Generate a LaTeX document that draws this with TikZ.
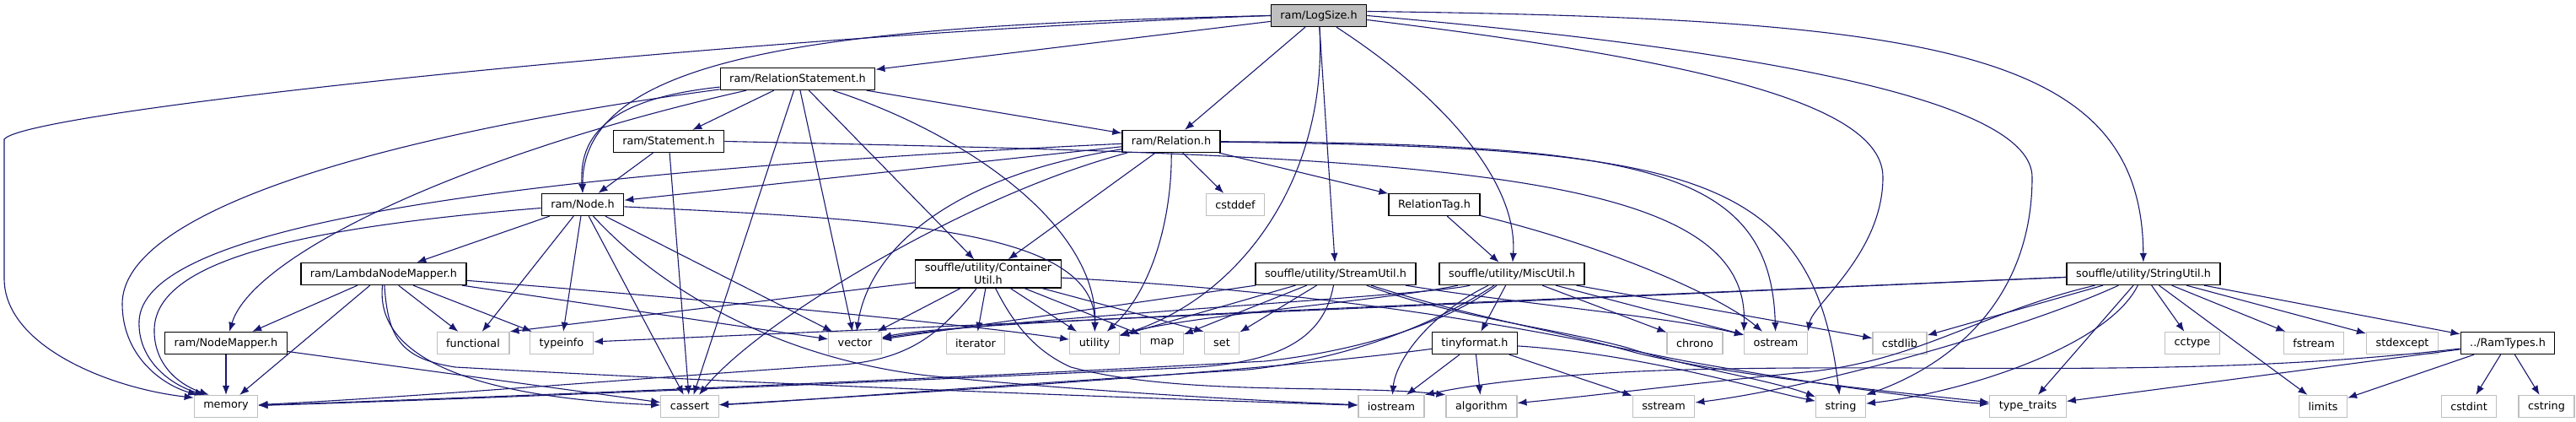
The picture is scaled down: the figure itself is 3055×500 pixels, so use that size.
\documentclass[tikz,border=0pt]{standalone}
\usepackage{fontspec}
\setmainfont{DejaVu Sans}
\usepackage{xcolor}
\usepackage{tikz}
\usetikzlibrary{positioning,arrows.meta}
\definecolor{edgeblue}{HTML}{191970}
\definecolor{sysgray}{HTML}{BFBFBF}

\begin{document}
\begin{tikzpicture}[
  x=1pt, y=1pt,
  font=\fontsize{12.8}{15}\selectfont,
  hdr/.style={draw, line width=1.3pt, fill=white, minimum height=26pt,
              inner xsep=11pt, inner ysep=4pt, align=center},
  sysh/.style={hdr, draw=sysgray},
  root/.style={hdr, fill=sysgray},
  inc/.style={draw=edgeblue, line width=1.1pt, -{Latex[length=11pt,width=8.5pt]}},
]
\useasboundingbox (0,0) rectangle (3055,500);

\node[root] (logsize) at (1564,481.5) {ram/LogSize.h};
\node[hdr] (relstmt) at (946,406.5) {ram/RelationStatement.h};
\node[hdr] (stmt) at (793,332.5) {ram/Statement.h};
\node[hdr] (relation) at (1389,332.5) {ram/Relation.h};
\node[hdr] (ramnode) at (691,257.5) {ram/Node.h};
\node[sysh] (cstddef) at (1465,257.5) {cstddef};
\node[hdr] (reltag) at (1701,257.5) {RelationTag.h};
\node[hdr] (lambda) at (455,175.5) {ram/LambdaNodeMapper.h};
\node[hdr] (contutil) at (1172,175.5) {souffle/utility/Container\\Util.h};
\node[hdr] (streamutil) at (1584,175.5) {souffle/utility/StreamUtil.h};
\node[hdr] (miscutil) at (1793,175.5) {souffle/utility/MiscUtil.h};
\node[hdr] (stringutil) at (2542,175.5) {souffle/utility/StringUtil.h};
\node[hdr] (nodemapper) at (268,93.5) {ram/NodeMapper.h};
\node[sysh] (functional) at (561,93.5) {functional};
\node[sysh] (typeinfo) at (666,93.5) {typeinfo};
\node[sysh] (vector) at (1014,93.5) {vector};
\node[sysh] (iterator) at (1157,93.5) {iterator};
\node[sysh] (utility) at (1298,93.5) {utility};
\node[sysh] (map) at (1378,93.5) {map};
\node[sysh] (set) at (1449,93.5) {set};
\node[hdr] (tinyformat) at (1749,93.5) {tinyformat.h};
\node[sysh] (chrono) at (2010,93.5) {chrono};
\node[sysh] (ostream) at (2106,93.5) {ostream};
\node[sysh] (cstdlib) at (2253,93.5) {cstdlib};
\node[sysh] (cctype) at (2600,93.5) {cctype};
\node[sysh] (fstream) at (2744,93.5) {fstream};
\node[sysh] (stdexcept) at (2849,93.5) {stdexcept};
\node[hdr] (ramtypes) at (2974,93.5) {../RamTypes.h};
\node[sysh] (memory) at (268,18.5) {memory};
\node[sysh] (cassert) at (818,18.5) {cassert};
\node[sysh] (iostream) at (1650,18.5) {iostream};
\node[sysh] (algorithm) at (1757,18.5) {algorithm};
\node[sysh] (sstream) at (1973,18.5) {sstream};
\node[sysh] (string) at (2183,18.5) {string};
\node[sysh] (typetraits) at (2405,18.5) {type\_traits};
\node[sysh] (limits) at (2755,18.5) {limits};
\node[sysh] (cstdint) at (2928,18.5) {cstdint};
\node[sysh] (cstring) at (3020,18.5) {cstring};

\draw[inc] (logsize) -- (relstmt);
\draw[inc] (logsize) -- (relation);
\draw[inc] (logsize.west) .. controls (1000,470) and (690,440) .. (ramnode.north);
\draw[inc] (logsize.west) .. controls (900,460) and (30,370) .. (5,335) -- (5,170) .. controls (5,90) and (130,40) .. (memory.165);
\draw[inc] (logsize) .. controls (1575,300) and (1480,150) .. (utility);
\draw[inc] (logsize) -- (streamutil);
\draw[inc] (logsize) .. controls (1720,380) and (1800,280) .. (miscutil);
\draw[inc] (logsize.-5) .. controls (2000,430) and (2233,380) .. (2233,290) .. controls (2233,200) and (2150,140) .. (ostream.north east);
\draw[inc] (logsize.east) .. controls (2100,440) and (2410,380) .. (2410,290) .. controls (2410,150) and (2320,70) .. (string.north east);
\draw[inc] (logsize.5) .. controls (2300,478) and (2540,440) .. (stringutil);

\draw[inc] (relstmt) -- (stmt);
\draw[inc] (relstmt) -- (relation);
\draw[inc] (relstmt) .. controls (740,385) and (685,350) .. (ramnode.north);
\draw[inc] (relstmt) .. controls (450,340) and (145,250) .. (145,140) .. controls (145,80) and (190,45) .. (memory.158);
\draw[inc] (relstmt) .. controls (560,320) and (300,200) .. (nodemapper);
\draw[inc] (relstmt) -- (cassert);
\draw[inc] (relstmt) -- (vector);
\draw[inc] (relstmt) -- (contutil);
\draw[inc] (relstmt) .. controls (1150,340) and (1302,230) .. (utility);

\draw[inc] (stmt) -- (ramnode);
\draw[inc] (stmt) -- (cassert);
\draw[inc] (stmt.east) .. controls (1700,315) and (2075,300) .. (ostream.north west);

\draw[inc] (relation) -- (ramnode);
\draw[inc] (relation) -- (cstddef);
\draw[inc] (relation) -- (reltag);
\draw[inc] (relation) -- (contutil);
\draw[inc] (relation) .. controls (500,290) and (170,220) .. (165,120) .. controls (163,75) and (200,45) .. (memory.152);
\draw[inc] (relation) .. controls (1120,290) and (1030,200) .. (vector);
\draw[inc] (relation) .. controls (1150,270) and (900,120) .. (cassert);
\draw[inc] (relation) .. controls (1390,250) and (1370,160) .. (utility);
\draw[inc] (relation) .. controls (1950,330) and (2100,300) .. (ostream);
\draw[inc] (relation) .. controls (2000,325) and (2150,300) .. (string);

\draw[inc] (reltag) -- (miscutil);
\draw[inc] (reltag) .. controls (1900,210) and (2040,150) .. (ostream);

\draw[inc] (ramnode) -- (lambda);
\draw[inc] (ramnode) .. controls (350,230) and (185,190) .. (183,110) .. controls (182,70) and (210,45) .. (memory.146);
\draw[inc] (ramnode) -- (functional);
\draw[inc] (ramnode) -- (typeinfo);
\draw[inc] (ramnode) -- (cassert);
\draw[inc] (ramnode) -- (vector);
\draw[inc] (ramnode) .. controls (790,150) and (930,75) .. (1100,55) .. controls (1300,35) and (1500,25) .. (iostream);
\draw[inc] (ramnode) .. controls (1050,240) and (1300,230) .. (utility);

\draw[inc] (lambda) -- (nodemapper);
\draw[inc] (lambda) -- (memory);
\draw[inc] (lambda) -- (functional);
\draw[inc] (lambda) -- (typeinfo);
\draw[inc] (lambda) -- (vector);
\draw[inc] (lambda) .. controls (900,140) and (1150,115) .. (utility);
\draw[inc] (lambda) .. controls (445,80) and (550,30) .. (cassert);
\draw[inc] (lambda) .. controls (460,100) and (475,75) .. (540,65) .. controls (900,45) and (1300,30) .. (iostream);

\draw[inc] (nodemapper) -- (memory);
\draw[inc] (nodemapper) -- (cassert);

\draw[inc] (contutil) -- (functional.north east);
\draw[inc] (contutil) -- (vector);
\draw[inc] (contutil) -- (iterator);
\draw[inc] (contutil) -- (utility);
\draw[inc] (contutil) -- (map);
\draw[inc] (contutil) -- (set.north west);
\draw[inc] (contutil) .. controls (1115,105) and (1080,75) .. (1000,68) .. controls (800,55) and (500,30) .. (memory);
\draw[inc] (contutil) .. controls (1200,120) and (1225,85) .. (1270,65) .. controls (1400,30) and (1600,45) .. (algorithm.north west);
\draw[inc] (contutil) .. controls (1650,150) and (1880,95) .. (2000,72) .. controls (2150,45) and (2300,25) .. (typetraits);

\draw[inc] (streamutil) -- (vector);
\draw[inc] (streamutil) -- (utility);
\draw[inc] (streamutil) -- (map);
\draw[inc] (streamutil) -- (set);
\draw[inc] (streamutil) .. controls (1570,100) and (1520,72) .. (1420,65) .. controls (1000,45) and (500,25) .. (memory);
\draw[inc] (streamutil) .. controls (1800,140) and (1980,125) .. (ostream);
\draw[inc] (streamutil) .. controls (1720,125) and (1850,110) .. (1930,88) .. controls (2000,65) and (2100,50) .. (string);
\draw[inc] (streamutil) .. controls (1740,125) and (1860,105) .. (1940,82) .. controls (2050,55) and (2250,35) .. (typetraits);

\draw[inc] (miscutil) -- (tinyformat);
\draw[inc] (miscutil) -- (chrono);
\draw[inc] (miscutil) -- (ostream);
\draw[inc] (miscutil) -- (cstdlib);
\draw[inc] (miscutil) .. controls (1690,125) and (1655,70) .. (iostream);
\draw[inc] (miscutil) .. controls (1700,150) and (1180,122) .. (vector);
\draw[inc] (miscutil) .. controls (1650,145) and (1400,125) .. (utility);
\draw[inc] (miscutil) .. controls (1720,120) and (1620,85) .. (1500,72) .. controls (1100,50) and (600,30) .. (memory);
\draw[inc] (miscutil) .. controls (1700,115) and (1600,75) .. (1480,62) .. controls (1200,45) and (950,25) .. (cassert);

\draw[inc] (tinyformat) -- (iostream);
\draw[inc] (tinyformat) -- (algorithm);
\draw[inc] (tinyformat) -- (sstream);
\draw[inc] (tinyformat) .. controls (1500,60) and (1100,35) .. (cassert);
\draw[inc] (tinyformat) .. controls (1950,80) and (2080,40) .. (string);

\draw[inc] (stringutil) -- (typeinfo);
\draw[inc] (stringutil) .. controls (1600,135) and (1130,118) .. (vector);
\draw[inc] (stringutil) -- (cstdlib);
\draw[inc] (stringutil) .. controls (2350,130) and (2280,75) .. (2150,60) .. controls (2000,45) and (1880,30) .. (algorithm);
\draw[inc] (stringutil) .. controls (2400,110) and (2150,40) .. (sstream);
\draw[inc] (stringutil) .. controls (2500,90) and (2330,35) .. (string);
\draw[inc] (stringutil) -- (typetraits);
\draw[inc] (stringutil) -- (cctype);
\draw[inc] (stringutil) -- (limits);
\draw[inc] (stringutil) -- (fstream);
\draw[inc] (stringutil) -- (stdexcept);
\draw[inc] (stringutil) -- (ramtypes);

\draw[inc] (ramtypes) -- (limits);
\draw[inc] (ramtypes) -- (cstdint);
\draw[inc] (ramtypes) -- (cstring);
\draw[inc] (ramtypes) -- (typetraits);
\draw[inc] (ramtypes) .. controls (2600,50) and (2300,70) .. (2000,62) .. controls (1850,58) and (1750,45) .. (iostream.north east);
\end{tikzpicture}
\end{document}
